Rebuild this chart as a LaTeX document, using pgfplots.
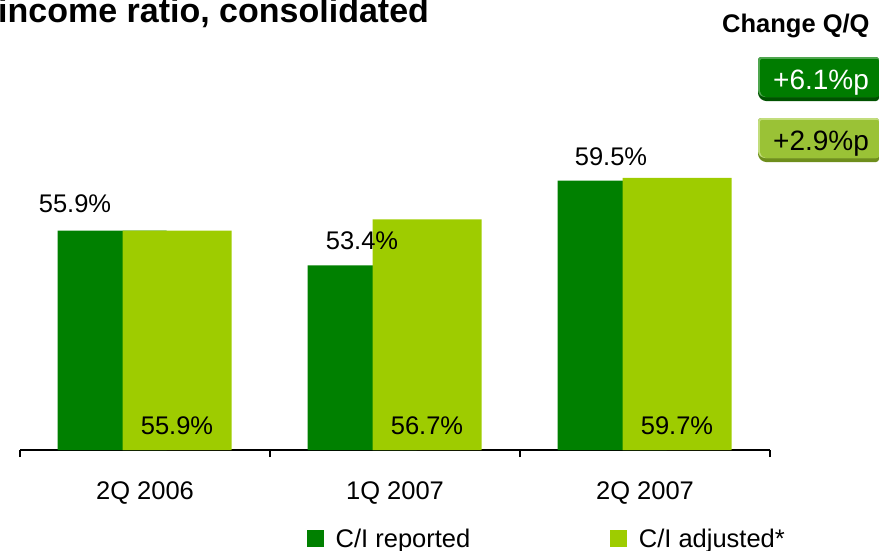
\documentclass[border=0pt]{standalone}
\usepackage{fontspec}
\setmainfont{Liberation Sans}
\usepackage{pgfplots}
\pgfplotsset{compat=1.18}
\definecolor{dkgreen}{HTML}{008000}
\definecolor{ltgreen}{HTML}{9ECC00}
\definecolor{bdkmain}{HTML}{007C00}
\definecolor{bdkshadow}{HTML}{005200}
\definecolor{bdkhigh}{HTML}{4FA64F}
\definecolor{bltmain}{HTML}{9AC236}
\definecolor{bltshadow}{HTML}{6E8E1C}
\definecolor{blthigh}{HTML}{C2DD7C}
\newcommand\lab{\fontsize{25.5}{30}\selectfont}
\begin{document}
\begin{tikzpicture}
\path[use as bounding box] (0,0) rectangle (879pt,-550pt);
% title
\node[anchor=base west, inner sep=0pt, font=\fontsize{34}{40}\selectfont\bfseries] at (-2pt,-22pt) {income ratio, consolidated};
\node[anchor=base west, inner sep=0pt, font=\fontsize{25.5}{30}\selectfont\bfseries] at (722pt,-32pt) {Change Q/Q};
% badge 1
\fill[bdkshadow, rounded corners=3pt] (758pt,-57pt) -- (879pt,-57pt) -- (879pt,-101pt) -- (763pt,-101pt) -- (758pt,-96pt) -- cycle;
\fill[bdkhigh, rounded corners=3pt] (758pt,-57pt) -- (879pt,-57pt) -- (879pt,-97pt) -- (762pt,-97pt) -- (758pt,-93pt) -- cycle;
\fill[bdkmain, rounded corners=2pt] (760pt,-59pt) -- (879pt,-59pt) -- (879pt,-97pt) -- (764pt,-97pt) -- (760pt,-93pt) -- cycle;
\node[anchor=base west, inner sep=0pt, text=white, font=\fontsize{28}{32}\selectfont] at (773pt,-89pt) {+6.1\%p};
% badge 2
\fill[bltshadow, rounded corners=3pt] (758pt,-118pt) -- (879pt,-118pt) -- (879pt,-162pt) -- (763pt,-162pt) -- (758pt,-157pt) -- cycle;
\fill[blthigh, rounded corners=3pt] (758pt,-118pt) -- (879pt,-118pt) -- (879pt,-158pt) -- (762pt,-158pt) -- (758pt,-154pt) -- cycle;
\fill[bltmain, rounded corners=2pt] (760pt,-120pt) -- (879pt,-120pt) -- (879pt,-158pt) -- (764pt,-158pt) -- (760pt,-154pt) -- cycle;
\node[anchor=base west, inner sep=0pt, text=black, font=\fontsize{28}{32}\selectfont] at (773pt,-150pt) {+2.9\%p};
\begin{axis}[
  at={(20pt,-450pt)}, anchor=south west,
  scale only axis, width=750pt, height=320pt,
  xmin=-0.5, xmax=2.5, ymin=40.1, ymax=63.14,
  axis x line*=bottom, axis y line=none,
  x axis line style={-, line width=1.2pt, black},
  xtick={0,1,2}, xticklabels={2Q 2006,1Q 2007,2Q 2007},
  major x tick style={draw=none},
  minor xtick={-0.5,0.5,1.5,2.5},
  minor x tick style={line width=1.2pt, black},
  minor tick length=7pt, tick align=outside,
  xticklabel style={font=\lab, anchor=base, yshift=-45pt},
  ytick=\empty,
  legend columns=2,
  legend style={draw=none, fill=none, inner sep=0pt, font=\lab,
    at={(0.3827,-0.2766)}, anchor=west,
    /tikz/every odd column/.append style={column sep=10pt},
    /tikz/every even column/.append style={column sep=138pt}},
  legend image code/.code={\fill[#1] (0pt,-8.5pt) rectangle (16.5pt,8.5pt);},
]
\addplot[ybar, bar width=109pt, bar shift=-33pt, fill=dkgreen, draw=none]
  coordinates {(0,55.9) (1,53.4) (2,59.5)};
\addlegendentry{C/I reported}
\addplot[ybar, bar width=109pt, bar shift=32pt, fill=ltgreen, draw=none]
  coordinates {(0,55.9) (1,56.7) (2,59.7)};
\addlegendentry{C/I adjusted*}
\node[anchor=base, font=\lab, inner sep=0pt] at (axis cs:-0.28,57.23) {55.9\%};
\node[anchor=base, font=\lab, inner sep=0pt] at (axis cs:0.868,54.57) {53.4\%};
\node[anchor=base, font=\lab, inner sep=0pt] at (axis cs:1.864,60.62) {59.5\%};
\node[anchor=base, font=\lab, inner sep=0pt] at (axis cs:0.128,41.25) {55.9\%};
\node[anchor=base, font=\lab, inner sep=0pt] at (axis cs:1.128,41.25) {56.7\%};
\node[anchor=base, font=\lab, inner sep=0pt] at (axis cs:2.128,41.25) {59.7\%};
\end{axis}
\end{tikzpicture}
\end{document}
